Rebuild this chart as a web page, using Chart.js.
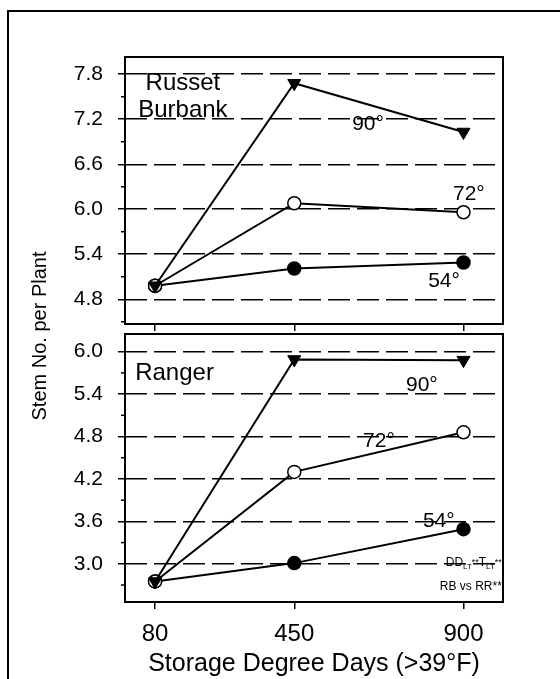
<!DOCTYPE html>
<html lang="en">
<head>
<meta charset="UTF-8">
<title>Stem No. per Plant</title>
<script src="https://cdn.jsdelivr.net/npm/chart.js"></script>
<style>
  body { margin: 0; background: #fff; }
  #wrap { position: relative; width: 560px; height: 679px; overflow: hidden; background: #fff; }
  #frame { position: absolute; left: 7px; top: 10px; width: 600px; height: 700px; border: 2px solid #000; }
  canvas { position: absolute; left: 0; top: 0; }
</style>
</head>
<body>
<div id="wrap">
  <div id="frame"></div>
  <canvas id="rbChart" width="560" height="679"></canvas>
  <canvas id="rrChart" width="560" height="679"></canvas>
</div>
<script>
// storage degree days (x) and stem numbers
const days = [80, 450, 900];

const rb90 = [4.98, 7.68, 7.03];
const rb72 = [4.98, 6.08, 5.96];
const rb54 = [4.98, 5.21, 5.29];

const rr90 = [2.75, 5.89, 5.88];
const rr72 = [2.75, 4.30, 4.86];
const rr54 = [2.75, 3.01, 3.49];

const rbTicks = [4.8, 5.4, 6.0, 6.6, 7.2, 7.8];
const rrTicks = [3.0, 3.6, 4.2, 4.8, 5.4, 6.0];

const FONT = '"Liberation Sans", Arial, sans-serif';
Chart.defaults.font.family = FONT;
Chart.defaults.color = '#000';

// labels placed in data coordinates: [text, x, y, size, align]
const rbNotes = [
  ['Russet', 154, 7.59, 24, 'center'],
  ['Burbank', 154, 7.23, 24, 'center'],
  ['90°', 604, 7.06, 21, 'left'],
  ['72°', 872, 6.12, 21, 'left'],
  ['54°', 806, 4.96, 21, 'left']
];
const rrNotes = [
  ['Ranger', 27, 5.60, 24, 'left'],
  ['90°', 747, 5.44, 21, 'left'],
  ['72°', 633, 4.65, 21, 'left'],
  ['54°', 792, 3.52, 21, 'left'],
  ['RB vs RR**', 1002, 2.63, 12, 'right']
];

function pts(vals) {
  return days.map((d, i) => ({ x: d, y: vals[i] }));
}

function series(v90, v72, v54) {
  return [
    { label: '90°', data: pts(v90), pointStyle: 'triangle', rotation: 180, pointRadius: 7.5,
      backgroundColor: '#000', borderColor: '#000', borderWidth: 2, pointBorderWidth: 1 },
    { label: '72°', data: pts(v72), pointStyle: 'circle', pointRadius: 6.5,
      backgroundColor: '#fff', borderColor: '#000', borderWidth: 2, pointBorderWidth: 1.5 },
    { label: '54°', data: pts(v54), pointStyle: 'circle', pointRadius: 6.5,
      backgroundColor: '#000', borderColor: '#000', borderWidth: 2, pointBorderWidth: 1.5 }
  ];
}

const decor = {
  id: 'decor',
  afterDraw(chart, args, opts) {
    const { ctx, chartArea: a, scales: { x, y } } = chart;
    ctx.save();
    ctx.strokeStyle = '#000';
    ctx.lineWidth = 2;
    ctx.strokeRect(a.left, a.top, a.right - a.left, a.bottom - a.top);

    // short minor ticks halfway between the labelled ones
    ctx.lineWidth = 1.5;
    const minor = opts.ticks.map(v => v - 0.3).concat([opts.ticks[opts.ticks.length - 1] + 0.3]);
    minor.forEach(v => {
      if (v < y.min || v > y.max) return;
      const py = y.getPixelForValue(v);
      ctx.beginPath();
      ctx.moveTo(a.left - 4, py);
      ctx.lineTo(a.left, py);
      ctx.stroke();
    });

    ctx.fillStyle = '#000';
    ctx.textBaseline = 'alphabetic';
    opts.notes.forEach(n => {
      ctx.font = n[3] + 'px ' + FONT;
      ctx.textAlign = n[4];
      ctx.fillText(n[0], x.getPixelForValue(n[1]), y.getPixelForValue(n[2]));
    });

    if (opts.stats) {
      // DD_LT** T_LT** with subscripts
      const parts = [['DD', 12, 0], ['LT', 8, 3], ['**', 9, -1], ['T', 12, 0], ['LT', 8, 3], ['**', 9, -1]];
      let w = 0;
      parts.forEach(p => { ctx.font = p[1] + 'px ' + FONT; w += ctx.measureText(p[0]).width; });
      let px = x.getPixelForValue(1002) - w;
      const py = y.getPixelForValue(2.97);
      ctx.textAlign = 'left';
      parts.forEach(p => {
        ctx.font = p[1] + 'px ' + FONT;
        ctx.fillText(p[0], px, py + p[2]);
        px += ctx.measureText(p[0]).width;
      });
    }

    if (opts.yTitle) {
      ctx.translate(40, 336);
      ctx.rotate(-Math.PI / 2);
      ctx.font = '20px ' + FONT;
      ctx.textAlign = 'center';
      ctx.textBaseline = 'middle';
      ctx.fillText(opts.yTitle, 0, 0);
    }
    ctx.restore();
  }
};

function makeChart(id, datasets, yTicks, yMin, yMax, padTop, padBottom, xHeight, showX, extra) {
  return new Chart(document.getElementById(id), {
    type: 'line',
    data: { datasets: datasets },
    plugins: [decor],
    options: {
      responsive: false,
      animation: false,
      events: [],
      layout: { padding: { left: 0, top: padTop, right: 57, bottom: padBottom } },
      plugins: {
        legend: { display: false },
        tooltip: { enabled: false },
        decor: Object.assign({ ticks: yTicks }, extra)
      },
      scales: {
        x: {
          type: 'linear', min: 0, max: 1005,
          afterBuildTicks: s => { s.ticks = days.map(v => ({ value: v })); },
          afterFit: s => { s.height = xHeight; },
          grid: { drawOnChartArea: false, color: '#000', lineWidth: 1.5, tickLength: 7 },
          border: { display: false },
          ticks: { display: showX, font: { size: 24 }, padding: 11, maxRotation: 0, autoSkip: false },
          title: { display: showX, text: 'Storage Degree Days (>39°F)', font: { size: 25 }, padding: 0 }
        },
        y: {
          min: yMin, max: yMax,
          afterBuildTicks: s => { s.ticks = yTicks.map(v => ({ value: v })); },
          afterFit: s => { s.width = 125; },
          grid: { color: '#000', lineWidth: 1.5, tickLength: 7 },
          border: { display: false, dash: [22, 7] },
          ticks: { font: { size: 21 }, padding: 15, autoSkip: false, callback: v => Number(v).toFixed(1) }
        }
      }
    }
  });
}

makeChart('rbChart', series(rb90, rb72, rb54), rbTicks, 4.47, 8.03, 57, 345, 10, false,
  { notes: rbNotes });
makeChart('rrChart', series(rr90, rr72, rr54), rrTicks, 2.46, 6.25, 334, 0, 77, true,
  { notes: rrNotes, stats: true, yTitle: 'Stem No. per Plant' });
</script>
</body>
</html>
